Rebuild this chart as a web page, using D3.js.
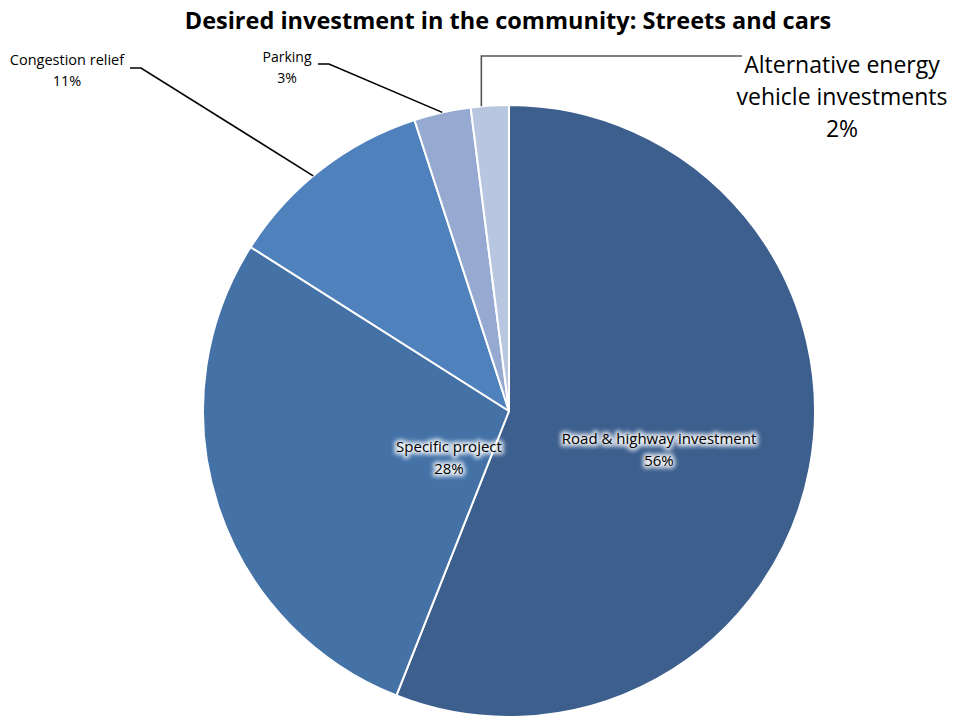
<!DOCTYPE html>
<html>
<head>
<meta charset="utf-8">
<script src="https://cdn.jsdelivr.net/npm/d3@7"></script>
<style>
  html, body { margin: 0; padding: 0; background: #fff; }
  svg { display: block; }
  text { font-family: "Open Sans", Lato, sans-serif; fill: #000; }
</style>
</head>
<body>
<svg id="chart" width="953" height="719"></svg>
<script>
// Survey shares: desired investment in streets and cars
const categories = ["Road & highway investment", "Specific project", "Congestion relief", "Parking", "Alternative energy vehicle investments"];
const shares = [56, 28, 11, 3, 2];
const sliceColors = ["#3c5f8e", "#4472a7", "#4f81bd", "#95a9d1", "#b9c6e0"];

const svg = d3.select("#chart");
const cx = 509, cy = 411, R = 306;

// blur used for the soft white halo behind labels on the slices
const defs = svg.append("defs");
defs.append("filter").attr("id", "soft")
  .attr("x", "-20%").attr("y", "-60%").attr("width", "140%").attr("height", "220%")
  .append("feGaussianBlur").attr("stdDeviation", 2.2);

svg.append("text")
  .attr("x", 508).attr("y", 29)
  .attr("text-anchor", "middle")
  .style("font-size", "23.5px").style("font-weight", "bold")
  .text("Desired investment in the community: Streets and cars");

const data = categories.map((c, i) => ({ name: c, value: shares[i], color: sliceColors[i] }));
const pie = d3.pie().value(d => d.value).sort(null);
const arcs = pie(data);
const arc = d3.arc().innerRadius(0).outerRadius(R);

const g = svg.append("g").attr("transform", `translate(${cx},${cy})`);
g.selectAll("path.slice")
  .data(arcs)
  .join("path")
  .attr("class", "slice")
  .attr("d", arc)
  .attr("fill", d => d.data.color)
  .attr("stroke", "#fff")
  .attr("stroke-width", 2)
  .attr("stroke-linejoin", "round");

// point on the rim of a slice, at fraction f between its start and end angle
function rimPoint(a, f) {
  const m = a.startAngle + (a.endAngle - a.startAngle) * f;
  return [cx + Math.sin(m) * R, cy - Math.cos(m) * R];
}

// leader lines for the small outer slices
const leaders = [
  { i: 2, pts: a => [[130, 68], [141, 68], rimPoint(a, 0.45)], color: "#000" },
  { i: 3, pts: a => [[318, 64], [329, 64], rimPoint(a, 0.5)], color: "#000" },
  { i: 4, pts: a => { const p = rimPoint(a, 0.28); return [p, [p[0], 56], [742, 56]]; }, color: "#555" }
];
leaders.forEach(l => {
  svg.append("path")
    .attr("d", d3.line()(l.pts(arcs[l.i])))
    .attr("fill", "none")
    .attr("stroke", l.color)
    .attr("stroke-width", 1.6);
});

function label(x, y, lines, size, lh, halo) {
  const layers = halo ? ["halo", "ink"] : ["ink"];
  layers.forEach(layer => {
    const t = svg.append("text")
      .attr("x", x).attr("y", y)
      .attr("text-anchor", "middle")
      .style("font-size", size + "px");
    if (layer === "halo") {
      t.style("fill", "#fff").style("stroke", "#fff")
        .style("stroke-width", 5).style("stroke-linejoin", "round")
        .attr("opacity", 0.85)
        .attr("filter", "url(#soft)");
    }
    lines.forEach((s, k) => t.append("tspan").attr("x", x).attr("dy", k === 0 ? 0 : lh).text(s));
  });
}

label(659, 444, [categories[0], shares[0] + "%"], 15, 22, true);
label(449, 452, [categories[1], shares[1] + "%"], 15, 22, true);
label(67, 65, [categories[2], shares[2] + "%"], 14.5, 21, false);
label(287, 62, ["Parking", shares[3] + "%"], 14, 21, false);
label(842, 73, ["Alternative energy", "vehicle investments", shares[4] + "%"], 23, 32, false);
</script>
</body>
</html>
